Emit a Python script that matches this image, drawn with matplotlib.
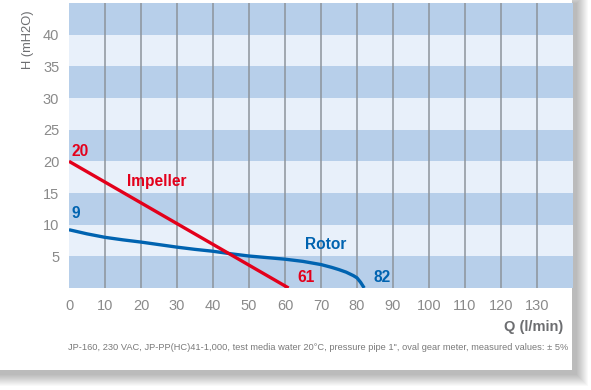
import matplotlib.pyplot as plt
from matplotlib.patches import Rectangle
from matplotlib import font_manager
from matplotlib.font_manager import FontProperties

# data
impeller_q = [0, 61]
impeller_h = [20, 0]
rotor_q = [0, 5, 10, 15, 20, 25, 30, 35, 40, 45, 50, 55, 60, 65, 70, 73, 75, 77, 79, 80, 81, 82]
rotor_h = [9.2, 8.55, 8.0, 7.6, 7.25, 6.85, 6.45, 6.1, 5.8, 5.4, 5.05, 4.8, 4.55, 4.2,
           3.7, 3.25, 2.9, 2.5, 1.95, 1.6, 0.9, 0]
x_ticks = list(range(0, 140, 10))
y_ticks = list(range(5, 45, 5))
note = ("JP-160, 230 VAC, JP-PP(HC)41-1,000, test media water 20\u00b0C, "
        "pressure pipe 1\", oval gear meter, measured values: \u00b1 5%")

plt.rcParams['font.family'] = ['Liberation Sans', 'DejaVu Sans']

# narrow faces if the system has them
files = [f.fname for f in font_manager.fontManager.ttflist]
def pick(key):
    for fn in files:
        if fn.lower().endswith(key):
            return fn
    return None
nar_reg = pick('liberationsansnarrow-regular.ttf')
nar_bold = pick('liberationsansnarrow-bold.ttf')

if nar_bold:
    bold_fp = FontProperties(fname=nar_bold, size=13)
else:
    bold_fp = FontProperties(family=['Liberation Sans', 'DejaVu Sans'], weight='bold', size=11.2)
if nar_reg:
    note_fp = FontProperties(fname=nar_reg, size=8)
else:
    note_fp = FontProperties(family=['Liberation Sans', 'DejaVu Sans'], size=8)

W, H = 591, 390
fig = plt.figure(figsize=(W / 100, H / 100), dpi=100)
fig.patch.set_facecolor('white')

# card with soft drop shadow
card_w, card_h = 572, 370
for i in range(12, 0, -1):
    fig.patches.append(Rectangle((-i / W, (H - card_h - 4 - i) / H),
                                 (card_w + 4 + 2 * i) / W, (card_h + 2 * i) / H,
                                 transform=fig.transFigure, facecolor='#000000',
                                 alpha=0.025, edgecolor='none', zorder=-10))
fig.patches.append(Rectangle((0, (H - card_h) / H), card_w / W, card_h / H,
                             transform=fig.transFigure, facecolor='white',
                             edgecolor='none', zorder=-9))

ax = fig.add_axes([69 / W, 1 - 288 / H, (573 - 69) / W, (288 - 3) / H])
ax.set_xlim(0, 140)
ax.set_ylim(0, 45)

dark, light = '#b7cfea', '#e8f0fa'
for k in range(9):
    ax.axhspan(k * 5, k * 5 + 5, color=dark if k % 2 == 0 else light, lw=0, zorder=0)
for x in x_ticks[1:]:
    ax.axvline(x, color='#8d949b', lw=1.1, zorder=1)

red, blue = '#e3001b', '#0063b0'
ax.plot(impeller_q, impeller_h, color=red, lw=2.4, zorder=3, solid_capstyle='butt')
ax.plot(rotor_q, rotor_h, color=blue, lw=2.4, zorder=2, solid_capstyle='butt')

ax.text(0.8, 21.6, '20', color=red, ha='left', va='center', fontproperties=bold_fp)
ax.text(16, 16.8, 'Impeller', color=red, ha='left', va='center', fontproperties=bold_fp)
ax.text(0.8, 11.7, '9', color=blue, ha='left', va='center', fontproperties=bold_fp)
ax.text(65.5, 6.9, 'Rotor', color=blue, ha='left', va='center', fontproperties=bold_fp)
ax.text(63.5, 1.7, '61', color=red, ha='left', va='center', fontproperties=bold_fp)
ax.text(84.5, 1.7, '82', color=blue, ha='left', va='center', fontproperties=bold_fp)

ax.set_xticks(x_ticks)
ax.set_yticks(y_ticks)
ax.tick_params(length=0, labelsize=10.5, colors='#8a8a8a')
ax.tick_params(axis='x', pad=8)
ax.tick_params(axis='y', pad=7)
for s in ax.spines.values():
    s.set_visible(False)

fig.text(28 / W, 1 - 40 / H, 'H (mH2O)', rotation=90, ha='center', va='center',
         fontsize=9.3, color='#6d6e71')
fig.text(563 / W, 1 - 327 / H, 'Q (l/min)', ha='right', va='center',
         fontsize=10.5, color='#6d6e71', fontweight='bold')
foot = fig.text(68 / W, 1 - 348 / H, note, ha='left', va='center',
                color='#7a7a7a', fontproperties=note_fp)

# shrink the footnote only if it would run past the card
r = fig.canvas.get_renderer()
wpx = foot.get_window_extent(r).width
if wpx > 498:
    foot.set_fontsize(note_fp.get_size() * 498 / wpx)

fig.savefig('out.png', dpi=100)
